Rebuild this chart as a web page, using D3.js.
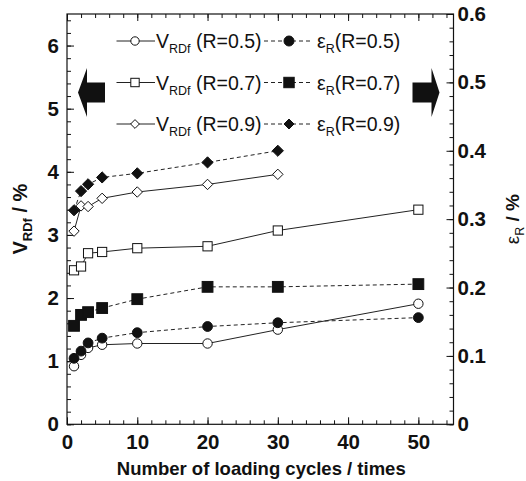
<!DOCTYPE html>
<html>
<head>
<meta charset="utf-8">
<script src="https://cdn.jsdelivr.net/npm/d3@7"></script>
<style>
  html, body { margin: 0; padding: 0; background: #fff; }
  svg { display: block; font-family: "Liberation Sans", Arial, Helvetica, sans-serif; }
</style>
</head>
<body>
<svg id="chart" width="526" height="481"></svg>
<script>
// Loading cycles at which each series was measured
const cycles = [1, 2, 3, 5, 10, 20, 30, 50];
const cyclesR09 = [1, 2, 3, 5, 10, 20, 30];

// Residual deformation V_RDf (%), left axis
const vR05 = [0.92, 1.10, 1.21, 1.26, 1.28, 1.28, 1.50, 1.91];
const vR07 = [2.44, 2.50, 2.71, 2.73, 2.79, 2.82, 3.07, 3.40];
const vR09 = [3.06, 3.46, 3.45, 3.58, 3.68, 3.80, 3.96];

// Residual strain ε_R (%), right axis
const eR05 = [0.0965, 0.107, 0.119, 0.126, 0.134, 0.143, 0.1485, 0.156];
const eR07 = [0.144, 0.160, 0.164, 0.170, 0.183, 0.201, 0.201, 0.205];
const eR09 = [0.313, 0.341, 0.351, 0.361, 0.367, 0.383, 0.400];

const xTicks = [0, 10, 20, 30, 40, 50];
const yLeftTicks = [0, 1, 2, 3, 4, 5, 6];
const yRightTicks = [0, 0.1, 0.2, 0.3, 0.4, 0.5, 0.6];
const legendLabels = ["R=0.5", "R=0.7", "R=0.9"];

const svg = d3.select("#chart");
const L = 67, R = 453.5, T = 14, B = 424.3;

const x = d3.scaleLinear().domain([0, 55]).range([L, R]);
const yL = d3.scaleLinear().domain([0, 6.5]).range([B, T]);
const yR = d3.scaleLinear().domain([0, 0.6]).range([B, T]);

const tickFont = "bold 20.5px 'Liberation Sans', Arial, sans-serif";

function styleAxis(g, showText) {
  g.select(".domain").remove();
  g.selectAll(".tick line").attr("stroke", "#111").attr("stroke-width", 1);
  g.selectAll(".tick text")
    .style("font", tickFont)
    .attr("fill", "#111")
    .style("display", showText ? null : "none");
}

const minorX = d3.range(0, 55.01, 2);
const minorYL = d3.range(0, 6.51, 0.2);
const minorYR = d3.range(0, 0.601, 0.02);

// bottom axis
svg.append("g").attr("transform", `translate(0,${B})`)
  .call(d3.axisBottom(x).tickValues(minorX).tickSize(-4).tickFormat(""))
  .call(g => styleAxis(g, false));
svg.append("g").attr("transform", `translate(0,${B})`)
  .call(d3.axisBottom(x).tickValues(xTicks).tickSize(-7).tickPadding(10).tickFormat(d3.format("d")))
  .call(g => styleAxis(g, true));
// top axis (ticks only)
svg.append("g").attr("transform", `translate(0,${T})`)
  .call(d3.axisTop(x).tickValues(minorX).tickSize(-4).tickFormat(""))
  .call(g => styleAxis(g, false));
svg.append("g").attr("transform", `translate(0,${T})`)
  .call(d3.axisTop(x).tickValues(xTicks).tickSize(-7).tickFormat(""))
  .call(g => styleAxis(g, false));
// left axis
svg.append("g").attr("transform", `translate(${L},0)`)
  .call(d3.axisLeft(yL).tickValues(minorYL).tickSize(-4).tickFormat(""))
  .call(g => styleAxis(g, false));
svg.append("g").attr("transform", `translate(${L},0)`)
  .call(d3.axisLeft(yL).tickValues(yLeftTicks).tickSize(-7).tickPadding(8).tickFormat(d3.format("d")))
  .call(g => styleAxis(g, true));
// right axis
svg.append("g").attr("transform", `translate(${R},0)`)
  .call(d3.axisRight(yR).tickValues(minorYR).tickSize(-4).tickFormat(""))
  .call(g => styleAxis(g, false));
svg.append("g").attr("transform", `translate(${R},0)`)
  .call(d3.axisRight(yR).tickValues(yRightTicks).tickSize(-7).tickPadding(4)
        .tickFormat(d => d === 0 ? "0" : d3.format(".1f")(d)))
  .call(g => styleAxis(g, true));

// frame
svg.append("rect").attr("x", L).attr("y", T).attr("width", R - L).attr("height", B - T)
  .attr("fill", "none").attr("stroke", "#111").attr("stroke-width", 1.2);

// marker shapes
function marker(sel, shape, filled, size) {
  const fill = filled ? "#111" : "#fff";
  if (shape === "circle") {
    sel.append("circle").attr("r", size).attr("fill", fill).attr("stroke", "#111").attr("stroke-width", 1);
  } else if (shape === "square") {
    sel.append("rect").attr("x", -size).attr("y", -size).attr("width", 2 * size).attr("height", 2 * size)
      .attr("fill", fill).attr("stroke", "#111").attr("stroke-width", 1);
  } else {
    sel.append("path").attr("d", `M0,${-size}L${size},0L0,${size}L${-size},0Z`)
      .attr("fill", fill).attr("stroke", "#111").attr("stroke-width", 1);
  }
}

const series = [
  { xs: cycles, ys: vR05, y: yL, shape: "circle", filled: false, size: 4.7, dash: null },
  { xs: cycles, ys: vR07, y: yL, shape: "square", filled: false, size: 4.6, dash: null },
  { xs: cyclesR09, ys: vR09, y: yL, shape: "diamond", filled: false, size: 5.2, dash: null },
  { xs: cycles, ys: eR05, y: yR, shape: "circle", filled: true, size: 4.9, dash: "4,3" },
  { xs: cycles, ys: eR07, y: yR, shape: "square", filled: true, size: 5.4, dash: "4,3" },
  { xs: cyclesR09, ys: eR09, y: yR, shape: "diamond", filled: true, size: 5.6, dash: "4,3" }
];

series.forEach(s => {
  const pts = s.xs.map((c, i) => [c, s.ys[i]]);
  const line = d3.line().x(d => x(d[0])).y(d => s.y(d[1]));
  svg.append("path").datum(pts).attr("d", line)
    .attr("fill", "none").attr("stroke", "#222").attr("stroke-width", 1)
    .attr("stroke-dasharray", s.dash);
});
series.forEach(s => {
  const pts = s.xs.map((c, i) => [c, s.ys[i]]);
  svg.append("g").selectAll("g").data(pts).join("g")
    .attr("transform", d => `translate(${x(d[0])},${s.y(d[1])})`)
    .each(function () { marker(d3.select(this), s.shape, s.filled, s.size); });
});

// legend
const shapes = ["circle", "square", "diamond"];
const legFont = "19.5px";
legendLabels.forEach((lab, i) => {
  const cy = 41 + i * 41.5;
  const g = svg.append("g");
  g.append("line").attr("x1", 116.5).attr("x2", 155).attr("y1", cy).attr("y2", cy)
    .attr("stroke", "#222").attr("stroke-width", 1);
  marker(g.append("g").attr("transform", `translate(135,${cy})`), shapes[i], false, i === 2 ? 4.4 : 4.2);
  const t1 = g.append("text").attr("x", 156).attr("y", cy + 7).style("font-size", legFont).attr("fill", "#111");
  t1.append("tspan").text("V");
  t1.append("tspan").attr("dy", 5).style("font-size", "12.5px").text("RDf");
  t1.append("tspan").attr("dy", -5).text(" (" + lab + ")");

  g.append("line").attr("x1", 264).attr("x2", 310).attr("y1", cy).attr("y2", cy)
    .attr("stroke", "#222").attr("stroke-width", 1).attr("stroke-dasharray", "4,3");
  marker(g.append("g").attr("transform", `translate(289,${cy})`), shapes[i], true, i === 1 ? 5.2 : 5);
  const t2 = g.append("text").attr("x", 317).attr("y", cy + 7).style("font-size", legFont).attr("fill", "#111");
  t2.append("tspan").text("ε");
  t2.append("tspan").attr("dy", 5).style("font-size", "12.5px").text("R");
  t2.append("tspan").attr("dy", -5).text("(" + lab + ")");
});

// axis arrows pointing to the relevant scale
svg.append("path")
  .attr("d", "M78,92.5 L87,68 L87,82.5 L105,82.5 L105,102.5 L87,102.5 L87,117 Z")
  .attr("fill", "#111");
svg.append("path")
  .attr("d", "M439.5,92.5 L431.5,68 L431.5,82.5 L412.5,82.5 L412.5,102.5 L431.5,102.5 L431.5,117 Z")
  .attr("fill", "#111");

// axis titles
svg.append("text").attr("x", (L + R) / 2 + 1).attr("y", 475).attr("text-anchor", "middle")
  .style("font", "bold 18.5px 'Liberation Sans', Arial, sans-serif").attr("fill", "#111")
  .text("Number of loading cycles / times");

const yt = svg.append("text").attr("transform", `translate(27,${(T + B) / 2}) rotate(-90)`)
  .attr("text-anchor", "middle")
  .style("font", "bold 20px 'Liberation Sans', Arial, sans-serif").attr("fill", "#111");
yt.append("tspan").text("V");
yt.append("tspan").attr("dy", 5).style("font-size", "13px").text("RDf");
yt.append("tspan").attr("dy", -5).text(" / %");

const rt = svg.append("text").attr("transform", `translate(519,${(T + B) / 2}) rotate(-90)`)
  .attr("text-anchor", "middle")
  .style("font", "bold 19px 'Liberation Sans', Arial, sans-serif").attr("fill", "#111");
rt.append("tspan").style("font-weight", "normal").text("ε");
rt.append("tspan").attr("dy", 5).style("font-size", "12.5px").style("font-weight", "normal").text("R");
rt.append("tspan").attr("dy", -5).text(" / %");
</script>
</body>
</html>
